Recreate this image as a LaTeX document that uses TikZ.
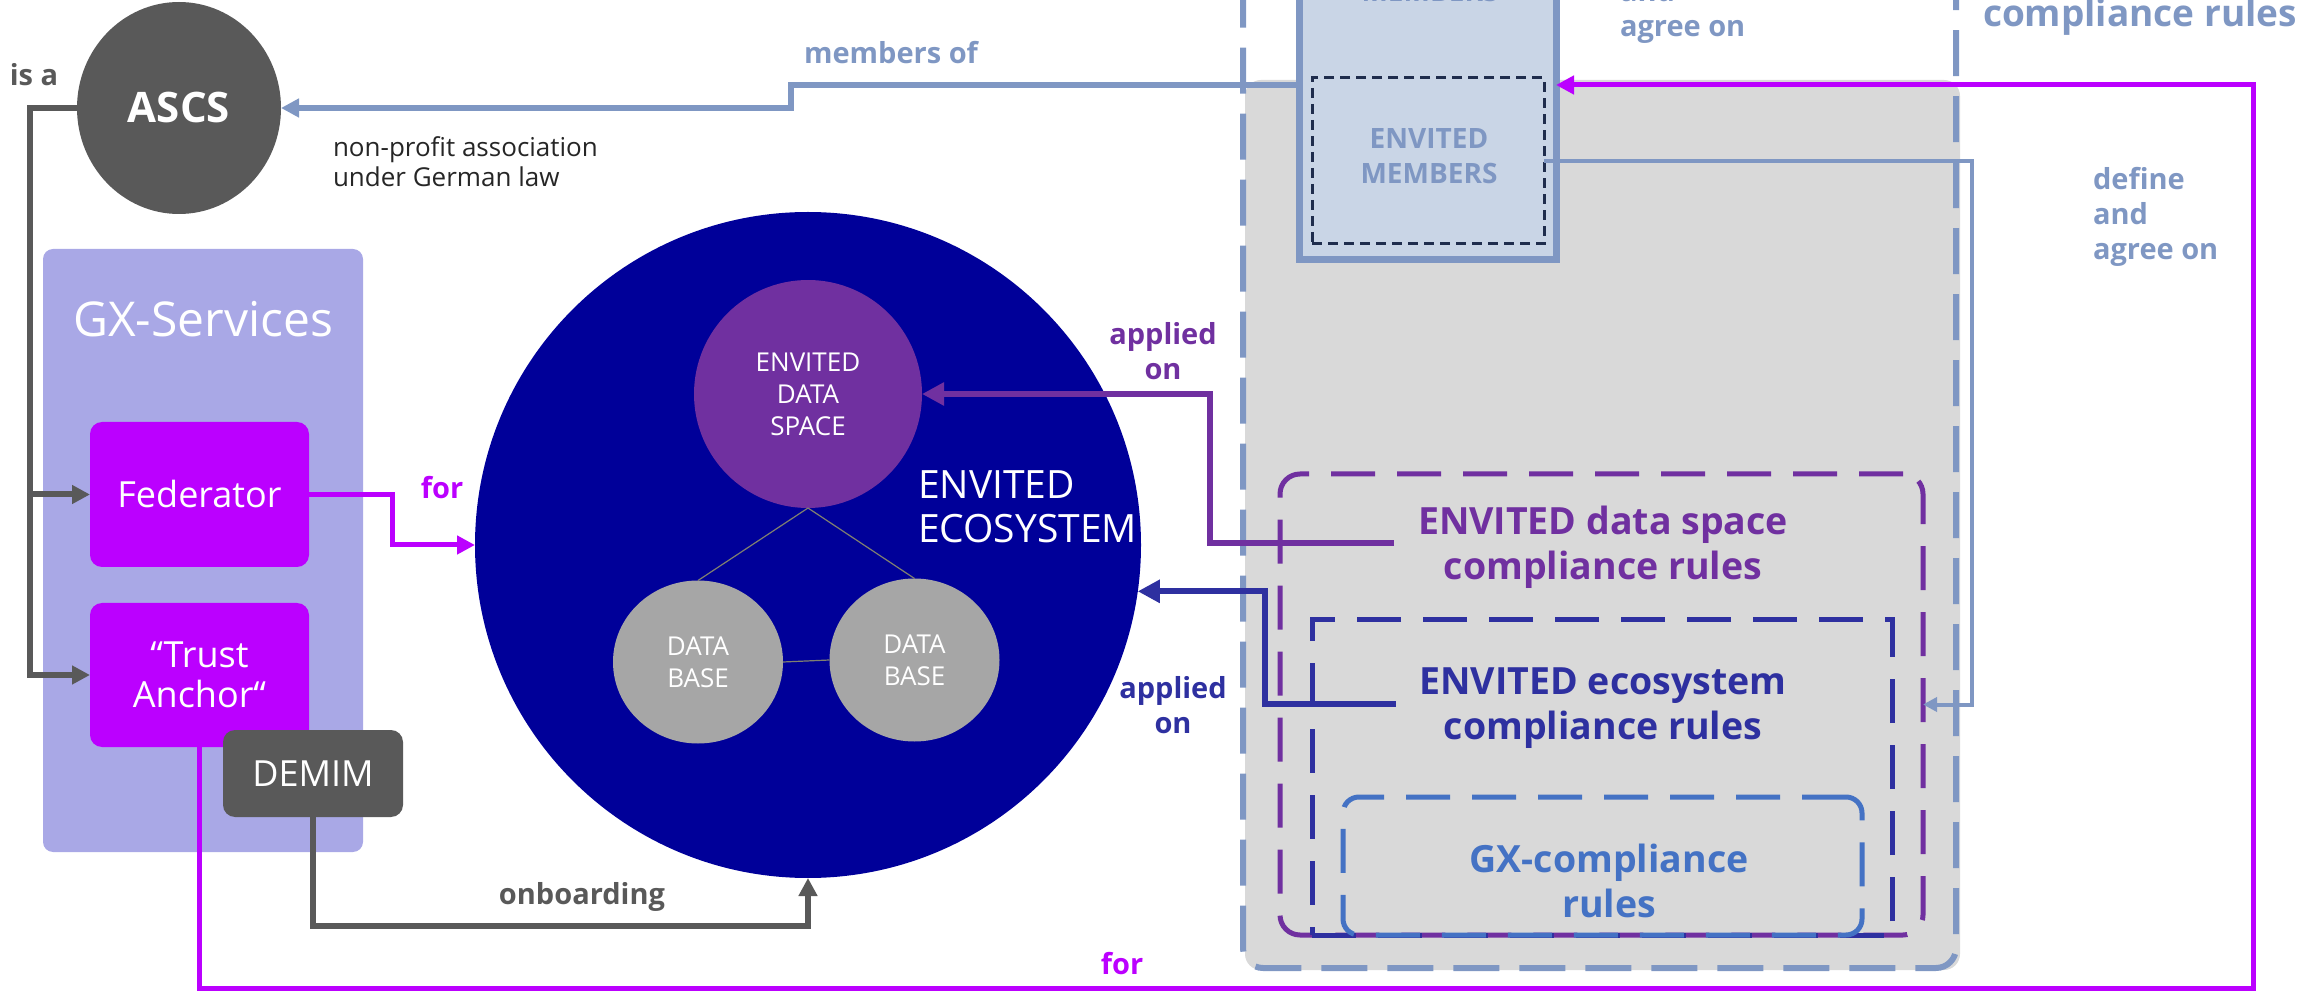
\documentclass[tikz,border=0pt]{standalone}
\usepackage{fontspec}
\setmainfont{Open Sans}
\usetikzlibrary{shapes.geometric,arrows.meta,calc}
\definecolor{cgray}{HTML}{595959}
\definecolor{clav}{HTML}{A9A8E6}
\definecolor{cmag}{HTML}{BB00FF}
\definecolor{cnavy}{HTML}{000099}
\definecolor{cpurple}{HTML}{7030A0}
\definecolor{cdb}{HTML}{A6A6A6}
\definecolor{cslate}{HTML}{7F97C3}
\definecolor{cmemfill}{HTML}{C9D5E6}
\definecolor{cbg}{HTML}{D9D9D9}
\definecolor{cdblue}{HTML}{2E30A0}
\definecolor{cgx}{HTML}{4472C4}
\definecolor{cdash}{HTML}{1F2D4D}
\definecolor{ctext}{HTML}{262626}
\definecolor{cthin}{HTML}{808070}
\begin{document}
\begin{tikzpicture}[x=0.5pt,y=-0.5pt,
  every node/.style={inner sep=0pt,outer sep=0pt},
  lbl/.style={font=\bfseries\fontsize{14.5pt}{17.5pt}\selectfont, align=center},
  whitebox/.style={text=white, font=\fontsize{18pt}{20pt}\selectfont, align=center, rounded corners=6pt},
  conn/.style={line width=3pt},
  tipa/.style={-{Triangle[length=9pt,width=9pt]}},
  tipb/.style={-{Triangle[length=11pt,width=11pt]}},
  tipc/.style={-{Triangle[length=7pt,width=7pt]}},
  dashbox/.style={line width=2.5pt, dash pattern=on 22pt off 11pt},
  rulestext/.style={font=\bfseries\fontsize{18.75pt}{22.5pt}\selectfont, align=center, inner xsep=12pt},
]
\useasboundingbox (0,0) rectangle (2315,994);
\clip (0,0) rectangle (2315,994);

% ---------- right rules area ----------
\node[fill=cbg, rounded corners=8pt, minimum width=357.5pt, minimum height=445pt] (rulesbg) at (1602.5,525) {};
\node[draw=cslate, line width=3pt, dash pattern=on 23pt off 10pt, rounded corners=10pt,
      minimum width=356.5pt, minimum height=514pt] (rulesouter) at (1599.5,454) {};

\node[draw=cslate, fill=cmemfill, line width=3.5pt, minimum width=128.5pt, minimum height=175pt] (members) at (1427.5,85) {};
\node[text=cslate, font=\bfseries\fontsize{14pt}{17pt}\selectfont, anchor=base] (memtop) at (1430,2) {MEMBERS};
\node[draw=cdash, fill=cmemfill, line width=1.5pt, dash pattern=on 5pt off 3pt,
      minimum width=116pt, minimum height=83pt] (envmem) at (1428,161) {};
\node[text=cslate, font=\bfseries\fontsize{14pt}{17.5pt}\selectfont, align=center] (envmemtxt) at (1429,156) {ENVITED\\MEMBERS};

\node[draw=cpurple, dashbox, rounded corners=10pt, minimum width=321.5pt, minimum height=230.5pt] (dsrules) at (1601.5,704.5) {};
\node[draw=cdblue, dashbox, minimum width=290pt, minimum height=157.5pt] (ecorules) at (1602,777.5) {};
\node[draw=cgx, dashbox, rounded corners=8pt, minimum width=259.5pt, minimum height=69pt] (gxrules) at (1602.5,866) {};

\node[rulestext, text=cpurple] (dstext) at (1603,547) {ENVITED data space\\compliance rules};
\node[rulestext, text=cdblue] (ecotext) at (1603,708) {ENVITED ecosystem\\compliance rules};
\node[rulestext, text=cgx] (gxtext) at (1609,881) {GX-compliance\\rules};

% ---------- ecosystem ----------
\node[circle, fill=cnavy, minimum size=333pt] (eco) at (808,545) {};
\node[anchor=west, text=white, font=\fontsize{19.5pt}{22pt}\selectfont, align=left] (ecolbl) at (918,507) {ENVITED\\ECOSYSTEM};
\node[circle, fill=cpurple, minimum size=114pt, text=white, font=\fontsize{13pt}{16pt}\selectfont, align=center] (dspace) at (808,394) {ENVITED\\DATA\\SPACE};
\node[ellipse, fill=cdb, minimum width=85pt, minimum height=81.5pt, text=white, font=\fontsize{13pt}{16pt}\selectfont, align=center] (db1) at (698,662) {DATA\\BASE};
\node[ellipse, fill=cdb, minimum width=85pt, minimum height=81.5pt, text=white, font=\fontsize{13pt}{16pt}\selectfont, align=center] (db2) at (914.5,660) {DATA\\BASE};
\draw[line width=0.6pt, cthin] (dspace.south) -- (db1.north);
\draw[line width=0.6pt, cthin] (dspace.south) -- (db2.north);
\draw[line width=0.6pt, cthin] (db1.east) -- (db2.west);

% ---------- left side ----------
\node[ellipse, fill=cgray, minimum width=102pt, minimum height=106pt, text=white,
      font=\bfseries\fontsize{21pt}{24pt}\selectfont] (ascs) at (179,108) {ASCS};
\node[fill=clav, rounded corners=5pt, minimum width=160pt, minimum height=301.5pt] (gx) at (203,550.5) {};
\node[text=white, font=\fontsize{24pt}{28pt}\selectfont] (gxlbl) at (203,319) {GX-Services};
\node[whitebox, fill=cmag, minimum width=109.5pt, minimum height=72.5pt] (fed) at (199.5,494.5) {Federator};
\node[whitebox, fill=cmag, minimum width=109.5pt, minimum height=72pt] (trust) at (199.5,675) {“Trust\\Anchor“};
\node[whitebox, fill=cgray, minimum width=90pt, minimum height=43.5pt] (demim) at (313,773.5) {DEMIM};

% ---------- connectors ----------
\coordinate (isaX) at (30,108);
\draw[conn, color=cgray, tipa] (ascs.west) -- (isaX) |- (trust.west);
\draw[conn, color=cgray, tipa] (isaX |- fed.west) -- (fed.west);

\coordinate (forX) at (392,494.5);
\draw[line width=2.5pt, color=cmag, tipa] (fed.east) -- (forX) |- (eco.west);

\coordinate (mgB) at (2253,988);
\draw[line width=2.5pt, color=cmag, tipa] (trust.south) |- (mgB) |- (members.east);

\coordinate (onbX) at (808,926);
\draw[conn, color=cgray, tipa] (demim.south) |- (onbX) -- (eco.south);

\coordinate (mstep) at (791,85);
\draw[conn, color=cslate, tipa] (members.west) -- (mstep) |- (ascs.east);

\coordinate (apX1) at (1210,543);
\draw[conn, color=cpurple, tipb] (dstext.west |- apX1) -- (apX1) |- (dspace.east);

\coordinate (apX2) at (1265,704);
\draw[conn, color=cdblue, tipb] (ecotext.west |- apX2) -- (apX2) |- (eco.-8.8);

\coordinate (defX) at (1972,161);
\draw[line width=2pt, color=cslate, tipc] (envmem.east) -- (defX) |- (dsrules.east);

% ---------- labels ----------
\node[lbl, text=cgray] (isa) at (34,75) {is a};
\node[text=ctext, font=\fontsize{13pt}{15pt}\selectfont, align=left, anchor=west] (npa) at (333,162) {non-profit association\\under German law};
\node[lbl, text=cslate] (memof) at (891,53) {members of};
\node[lbl, text=cmag] (for1) at (442,488) {for};
\node[lbl, text=cgray] (onb) at (582,897) {onboarding};
\node[lbl, text=cmag] (for2) at (1122,964) {for};
\node[lbl, text=cpurple] (ap1) at (1163,351) {applied\\on};
\node[lbl, text=cdblue] (ap2) at (1173,705) {applied\\on};
\node[lbl, text=cslate, align=left, anchor=west] (def) at (2093,217) {define\\and\\agree on};
\node[lbl, text=cslate, align=left, anchor=west] (agr) at (1620,11) {and\\agree on};
\node[text=cslate, font=\bfseries\fontsize{18.5pt}{22pt}\selectfont, anchor=base west] (cr) at (1983,27) {compliance rules};
\end{tikzpicture}
\end{document}
